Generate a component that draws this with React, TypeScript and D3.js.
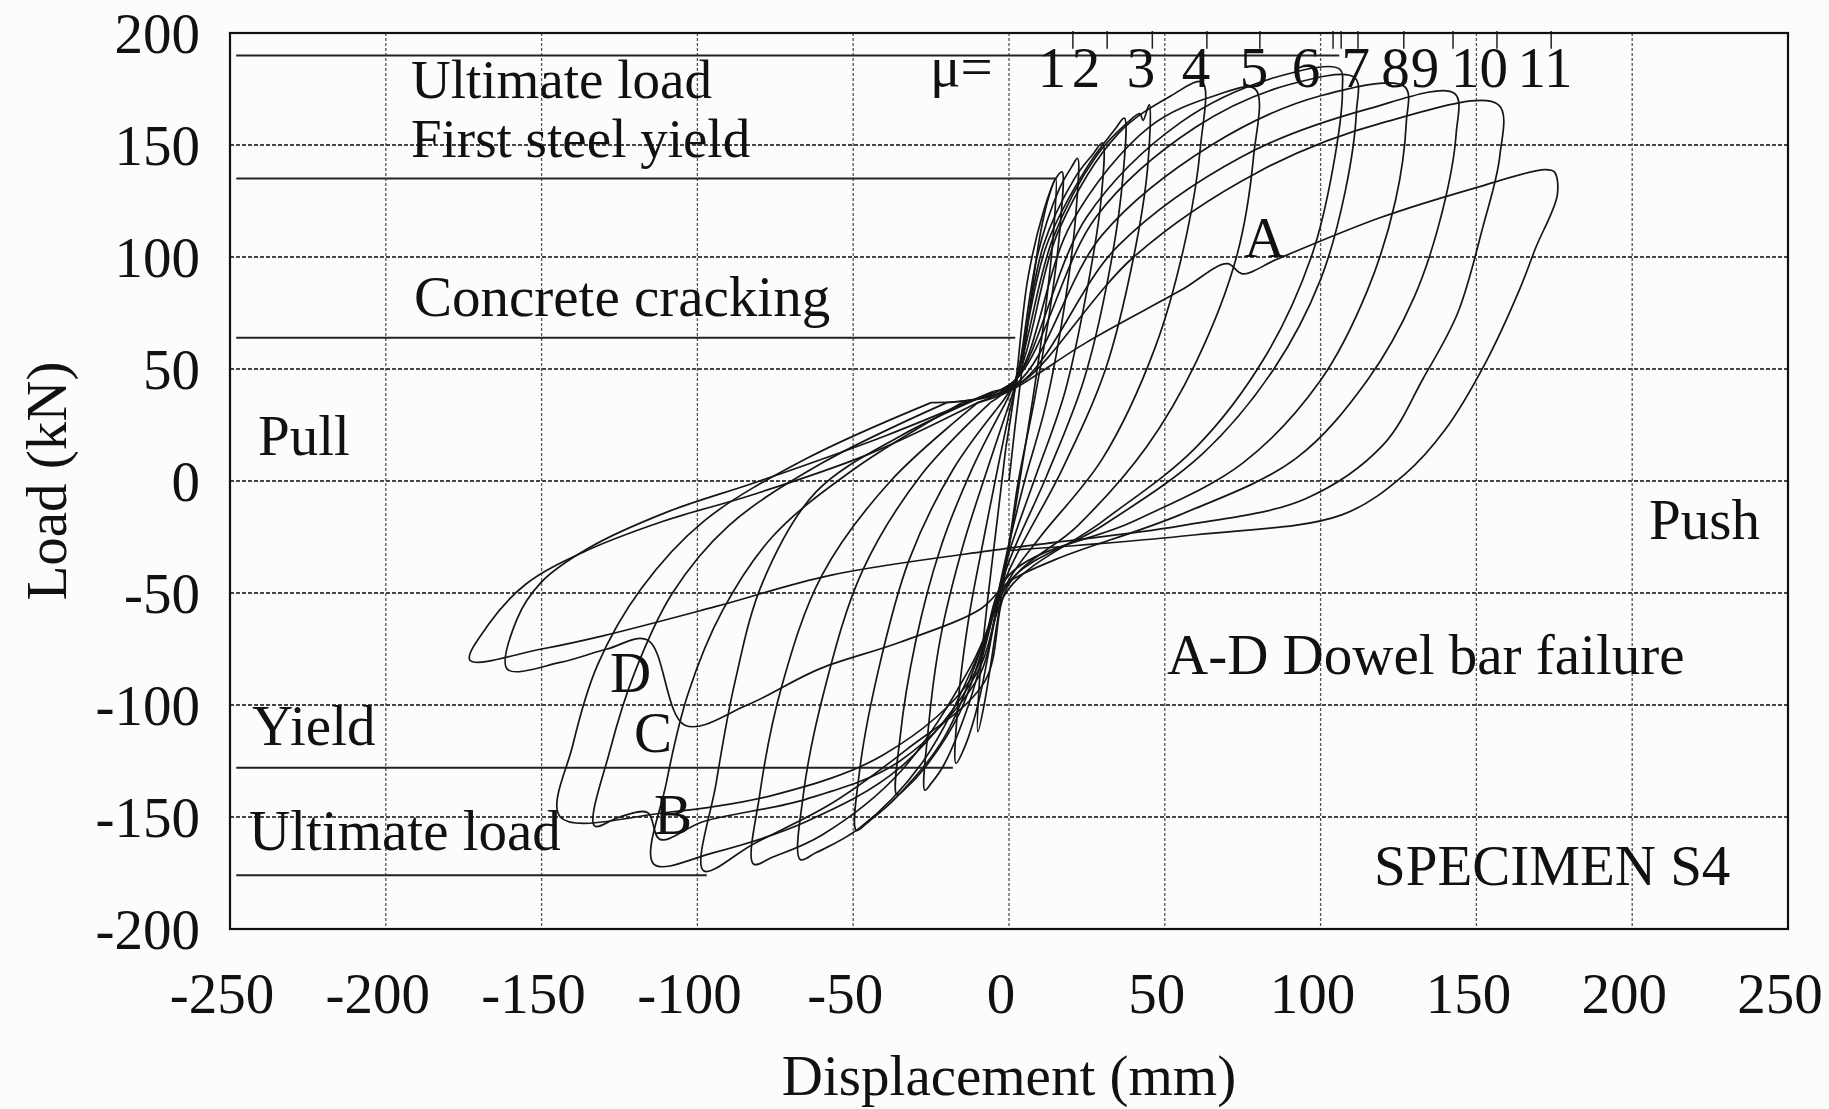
import { useEffect, useRef } from 'react';
import * as d3 from 'd3';

// axis ticks
const xTicks = [-250, -200, -150, -100, -50, 0, 50, 100, 150, 200, 250];
const yTicks = [-200, -150, -100, -50, 0, 50, 100, 150, 200];

// ductility markers along the top (displacement in mm)
const muLabels = ['1', '2', '3', '4', '5', '6', '7', '8', '9', '10', '11'];
const muLabelX = [13.8, 24.7, 42.4, 60, 78.6, 95.3, 111.3, 124, 133.5, 151, 172];
const muTickX = [20.5, 31.5, 46, 63.5, 80.5, 104, 106.6, 112, 126.7, 142.5, 156.6, 174];

// reference load levels: [load kN, end displacement mm]
const ultimatePush = [190, 106];
const firstYield = [135, 15];
const cracking = [64, 2];
const yieldPull = [-128, -18];
const ultimatePull = [-176, -97];

// load (kN) vs displacement (mm), one array per cycle
const c1 = [[0, 0], [2, 25], [6, 70], [10, 110], [13, 128], [15, 135], [14.5, 115], [12, 80], [8, 40], [4, 5], [0, -30], [-4, -65], [-8, -100], [-10, -112], [-9.5, -90], [-7, -55], [-4, -20], [-1, 15]];
const c2 = [[2, 42], [6, 90], [11, 120], [15, 135], [17, 138], [16.5, 115], [13, 75], [8, 35], [3, 0], [0, -28], [-5, -65], [-10, -100], [-14, -118], [-17, -126], [-16.5, -102], [-13, -62], [-8, -25], [-3, 10], [0, 30]];
const c3 = [[3, 48], [9, 100], [16, 130], [20, 140], [22, 144], [21.5, 120], [18, 80], [12, 35], [5, 0], [0, -28], [-6, -65], [-13, -100], [-21, -127], [-25, -135], [-27, -138], [-26, -112], [-22, -70], [-15, -30], [-7, 5], [-1, 30]];
const c4 = [[3, 48], [11, 105], [21, 135], [27, 146], [30, 151], [29.5, 125], [25, 85], [18, 40], [8, 0], [0, -32], [-7, -68], [-16, -104], [-27, -128], [-33, -137], [-36, -140], [-35, -115], [-30, -72], [-22, -30], [-12, 5], [-3, 30]];
const c5 = [[2, 45], [12, 105], [25, 140], [34, 157], [37, 162], [36.5, 135], [32, 92], [24, 45], [12, 2], [0, -36], [-9, -75], [-21, -115], [-36, -141], [-45, -152], [-49, -156], [-48, -130], [-42, -85], [-32, -35], [-18, 5], [-4, 32]];
const c6 = [[2, 45], [14, 108], [28, 145], [38, 160], [42, 164], [43, 161], [45, 168], [44.5, 140], [40, 100], [31, 50], [17, 5], [0, -40], [-10, -78], [-28, -126], [-48, -155], [-62, -166], [-67, -169], [-66, -140], [-59, -92], [-47, -40], [-28, 3], [-6, 35]];
const c7 = [[2, 45], [16, 112], [35, 155], [52, 172], [62, 178], [61.5, 150], [57, 110], [47, 60], [30, 10], [10, -25], [0, -44], [-12, -82], [-35, -130], [-60, -158], [-76, -168], [-82, -171], [-80, -140], [-73, -92], [-60, -42], [-38, 0], [-10, 35]];
const c8 = [[2, 45], [20, 115], [45, 158], [66, 172], [79, 175], [78.5, 145], [73, 100], [60, 53], [44, 15], [22, -20], [0, -46], [-8, -90], [-33, -120], [-57, -144], [-82, -162], [-98, -174], [-94, -135], [-88, -90], [-79, -45], [-62, -5], [-35, 20], [-8, 38]];
const c9 = [[2, 45], [25, 118], [55, 160], [85, 180], [106, 184], [107, 175], [104, 140], [97, 100], [82, 55], [60, 15], [30, -18], [0, -48], [-10, -85], [-35, -128], [-65, -152], [-95, -166], [-114, -171], [-110, -135], [-103, -95], [-92, -58], [-76, -25], [-50, 5], [-15, 35]];
const c10 = [[2, 45], [28, 118], [60, 158], [90, 177], [111, 180], [111.5, 165], [108, 130], [100, 90], [85, 50], [62, 12], [30, -20], [0, -45], [-10, -88], [-35, -125], [-65, -142], [-98, -152], [-112, -160], [-116, -148], [-125, -150], [-133, -154], [-128, -120], [-120, -85], [-108, -50], [-90, -20], [-60, 8], [-20, 35]];
const c11 = [[2, 43], [30, 110], [65, 150], [100, 172], [127, 176], [127.5, 160], [124, 125], [115, 85], [100, 45], [75, 8], [40, -18], [0, -42], [-12, -88], [-40, -122], [-75, -140], [-110, -148], [-144, -150], [-140, -118], [-132, -82], [-118, -48], [-98, -18], [-65, 10], [-25, 35]];
const c12 = [[2, 42], [35, 105], [75, 145], [115, 166], [143, 173], [143.5, 155], [139, 120], [130, 82], [115, 45], [92, 10], [55, -15], [15, -35], [0, -45], [-9, -57], [-35, -72], [-61, -84], [-84, -100], [-104, -109], [-116, -71], [-129, -75], [-144, -81], [-161, -84], [-158, -62], [-150, -45], [-135, -30], [-110, -14], [-80, 0], [-40, 20], [-5, 40]];
const c13 = [[5, 45], [40, 100], [80, 138], [120, 160], [157, 168], [157.5, 145], [152, 113], [144, 75], [133, 46], [120, 16], [95, -8], [55, -20], [0, -30], [-57, -42], [-94, -56], [-130, -69], [-150, -75], [-173, -80], [-167, -64], [-155, -46], [-137, -32], [-111, -18], [-82, -6], [-45, 12], [-10, 35]];
const c14 = [[0, 40], [25, 62], [55, 85], [70, 97], [75, 92.5], [86, 99], [119, 117.5], [150, 131], [172, 139], [175, 138], [176, 128], [169, 104], [164, 86], [153, 53], [140, 23], [127, 3], [107, -15], [60, -24], [0, -31]];

const cycles = [c1, c2, c3, c4, c5, c6, c7, c8, c9, c10, c11, c12, c13, c14];

const FONT = '"Liberation Serif", "Times New Roman", serif';

export default function App() {
  const svgRef = useRef<SVGSVGElement>(null);

  useEffect(() => {
    const W = 1829;
    const H = 1109;
    const svg = d3.select(svgRef.current);
    svg.selectAll('*').remove();
    svg.attr('width', W).attr('height', H);

    const x = d3.scaleLinear().domain([-250, 250]).range([230, 1788]);
    const y = d3.scaleLinear().domain([-200, 200]).range([929, 33]);

    svg.append('rect').attr('width', W).attr('height', H).attr('fill', '#fcfcfa');

    const grid = svg.append('g');
    grid.selectAll('.vg')
      .data(xTicks.slice(1, -1))
      .join('line')
      .attr('x1', d => x(d)).attr('x2', d => x(d))
      .attr('y1', y(200)).attr('y2', y(-200))
      .attr('stroke', '#555').attr('stroke-width', 1.3)
      .attr('stroke-dasharray', '3,2');
    grid.selectAll('.hg')
      .data(yTicks.slice(1, -1))
      .join('line')
      .attr('x1', x(-250)).attr('x2', x(250))
      .attr('y1', d => y(d)).attr('y2', d => y(d))
      .attr('stroke', '#444').attr('stroke-width', 1.8)
      .attr('stroke-dasharray', '4,2');

    // reference levels
    const levels = [ultimatePush, firstYield, cracking, yieldPull, ultimatePull];
    svg.append('g').selectAll('line')
      .data(levels)
      .join('line')
      .attr('x1', x(-248)).attr('x2', d => x(d[1]))
      .attr('y1', d => y(d[0])).attr('y2', d => y(d[0]))
      .attr('stroke', '#222').attr('stroke-width', 2);

    // μ ticks
    svg.append('g').selectAll('line')
      .data(muTickX)
      .join('line')
      .attr('x1', d => x(d)).attr('x2', d => x(d))
      .attr('y1', y(200) - 2).attr('y2', y(193))
      .attr('stroke', '#222').attr('stroke-width', 1.5);

    // hysteresis loops
    const line = d3.line<number[]>()
      .x(d => x(d[0]))
      .y(d => y(d[1]))
      .curve(d3.curveCatmullRom.alpha(0.5));
    const paths = cycles.map((c, i) => (i === 0 ? c : [cycles[i - 1][cycles[i - 1].length - 1], ...c]));
    svg.append('g').selectAll('path')
      .data(paths)
      .join('path')
      .attr('d', d => line(d))
      .attr('fill', 'none')
      .attr('stroke', '#161616')
      .attr('stroke-width', 1.7);

    // frame
    svg.append('rect')
      .attr('x', x(-250)).attr('y', y(200))
      .attr('width', x(250) - x(-250)).attr('height', y(-200) - y(200))
      .attr('fill', 'none').attr('stroke', '#111').attr('stroke-width', 2.2);

    const txt = svg.append('g')
      .attr('font-family', FONT)
      .attr('font-size', 57)
      .attr('fill', '#111');

    txt.selectAll('.xt')
      .data(xTicks)
      .join('text')
      .attr('x', d => x(d) - 8)
      .attr('y', 1013)
      .attr('text-anchor', 'middle')
      .text(d => d);
    txt.selectAll('.yt')
      .data(yTicks)
      .join('text')
      .attr('x', 200)
      .attr('y', d => y(d))
      .attr('dy', '0.35em')
      .attr('text-anchor', 'end')
      .text(d => d);

    txt.append('text')
      .attr('x', x(0)).attr('y', 1095)
      .attr('text-anchor', 'middle')
      .text('Displacement (mm)');
    txt.append('text')
      .attr('transform', `translate(66, ${y(0)}) rotate(-90)`)
      .attr('text-anchor', 'middle')
      .text('Load (kN)');

    const notes: [string, number, number, number][] = [
      ['Ultimate load', 411, 98, 55],
      ['First steel yield', 411, 157, 55],
      ['Concrete cracking', 414, 316, 57],
      ['Pull', 258, 455, 57],
      ['Yield', 252, 745, 57],
      ['Ultimate load', 249, 850, 57],
      ['D', 610, 692, 57],
      ['C', 634, 752, 57],
      ['B', 654, 834, 57],
      ['A', 1244, 257, 57],
      ['A-D Dowel bar failure', 1167, 674, 57],
      ['SPECIMEN S4', 1374, 885, 57],
      ['Push', 1649, 539, 57],
      ['μ=', 930, 86, 57],
    ];
    txt.selectAll('.note')
      .data(notes)
      .join('text')
      .attr('x', d => d[1])
      .attr('y', d => d[2])
      .attr('font-size', d => d[3])
      .text(d => d[0]);

    txt.selectAll('.mu')
      .data(muLabels)
      .join('text')
      .attr('x', (d, i) => x(muLabelX[i]))
      .attr('y', 87)
      .attr('text-anchor', 'middle')
      .text(d => d);
  }, []);

  return <svg ref={svgRef} style={{ position: 'absolute', left: 0, top: 0 }}></svg>;
}
